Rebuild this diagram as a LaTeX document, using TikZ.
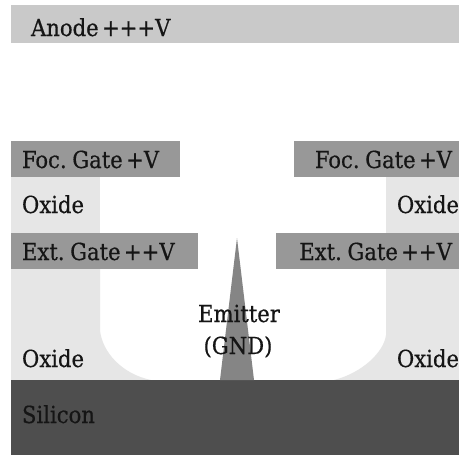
\documentclass[tikz,border=0pt]{standalone}
\usepackage{fontspec}
\setmainfont[FakeBold=0.5,WordSpace=0.5]{DejaVu Serif Condensed}
\definecolor{anodec}{HTML}{C9C9C9}
\definecolor{gatec}{HTML}{989898}
\definecolor{oxidec}{HTML}{E6E6E6}
\definecolor{sic}{HTML}{4E4E4E}
\definecolor{emitc}{HTML}{858585}
\definecolor{txt}{HTML}{151515}
\tikzset{
  lab/.style={inner sep=0pt,outer sep=0pt,text=txt,font=\fontsize{23.5}{24}\selectfont},
  labl/.style={lab,anchor=base west},
  labr/.style={lab,anchor=base east},
  labc/.style={lab,anchor=base}
}
\begin{document}
\begin{tikzpicture}[x=1pt,y=-1pt]
\useasboundingbox (0,0) rectangle (459,455);
\fill[white] (0,0) rectangle (459,455);
% oxide
\fill[oxidec] (11,177) rectangle (100,233);
\fill[oxidec] (386,177) rectangle (459,233);
\fill[oxidec] (11,269) -- (100,269) -- (100,330) .. controls (102,352) and (122,374) .. (151,380) -- (11,380) -- cycle;
\fill[oxidec] (459,269) -- (386,269) -- (386,335) .. controls (384,352) and (362,373) .. (334,380) -- (459,380) -- cycle;
% anode and gates
\fill[anodec] (11,5) rectangle (459,43);
\fill[gatec] (11,141) rectangle (180,177);
\fill[gatec] (294,141) rectangle (459,177);
\fill[gatec] (11,233) rectangle (198,269);
\fill[gatec] (276,233) rectangle (459,269);
% silicon and emitter
\fill[sic] (11,380) rectangle (459,455);
\fill[emitc] (237,238) -- (254,380) -- (220,380) -- cycle;
% labels
\node[labl] (anode) at (31,36) {Anode +++V};
\node[labl] (focl) at (22,168) {Foc. Gate +V};
\node[labr] (focr) at (452,168) {Foc. Gate +V};
\node[labl] (oxl) at (22,213) {Oxide};
\node[labr] (oxr) at (459,213) {Oxide};
\node[labl] (extl) at (22,260) {Ext. Gate ++V};
\node[labr] (extr) at (452,260) {Ext. Gate ++V};
\node[labc] (emit) at (239,322) {Emitter};
\node[labc] (gnd) at (238,354) {(GND)};
\node[labl] (oxbl) at (22,367) {Oxide};
\node[labr] (oxbr) at (459,367) {Oxide};
\node[labl] (si) at (22,423) {Silicon};
\end{tikzpicture}
\end{document}
